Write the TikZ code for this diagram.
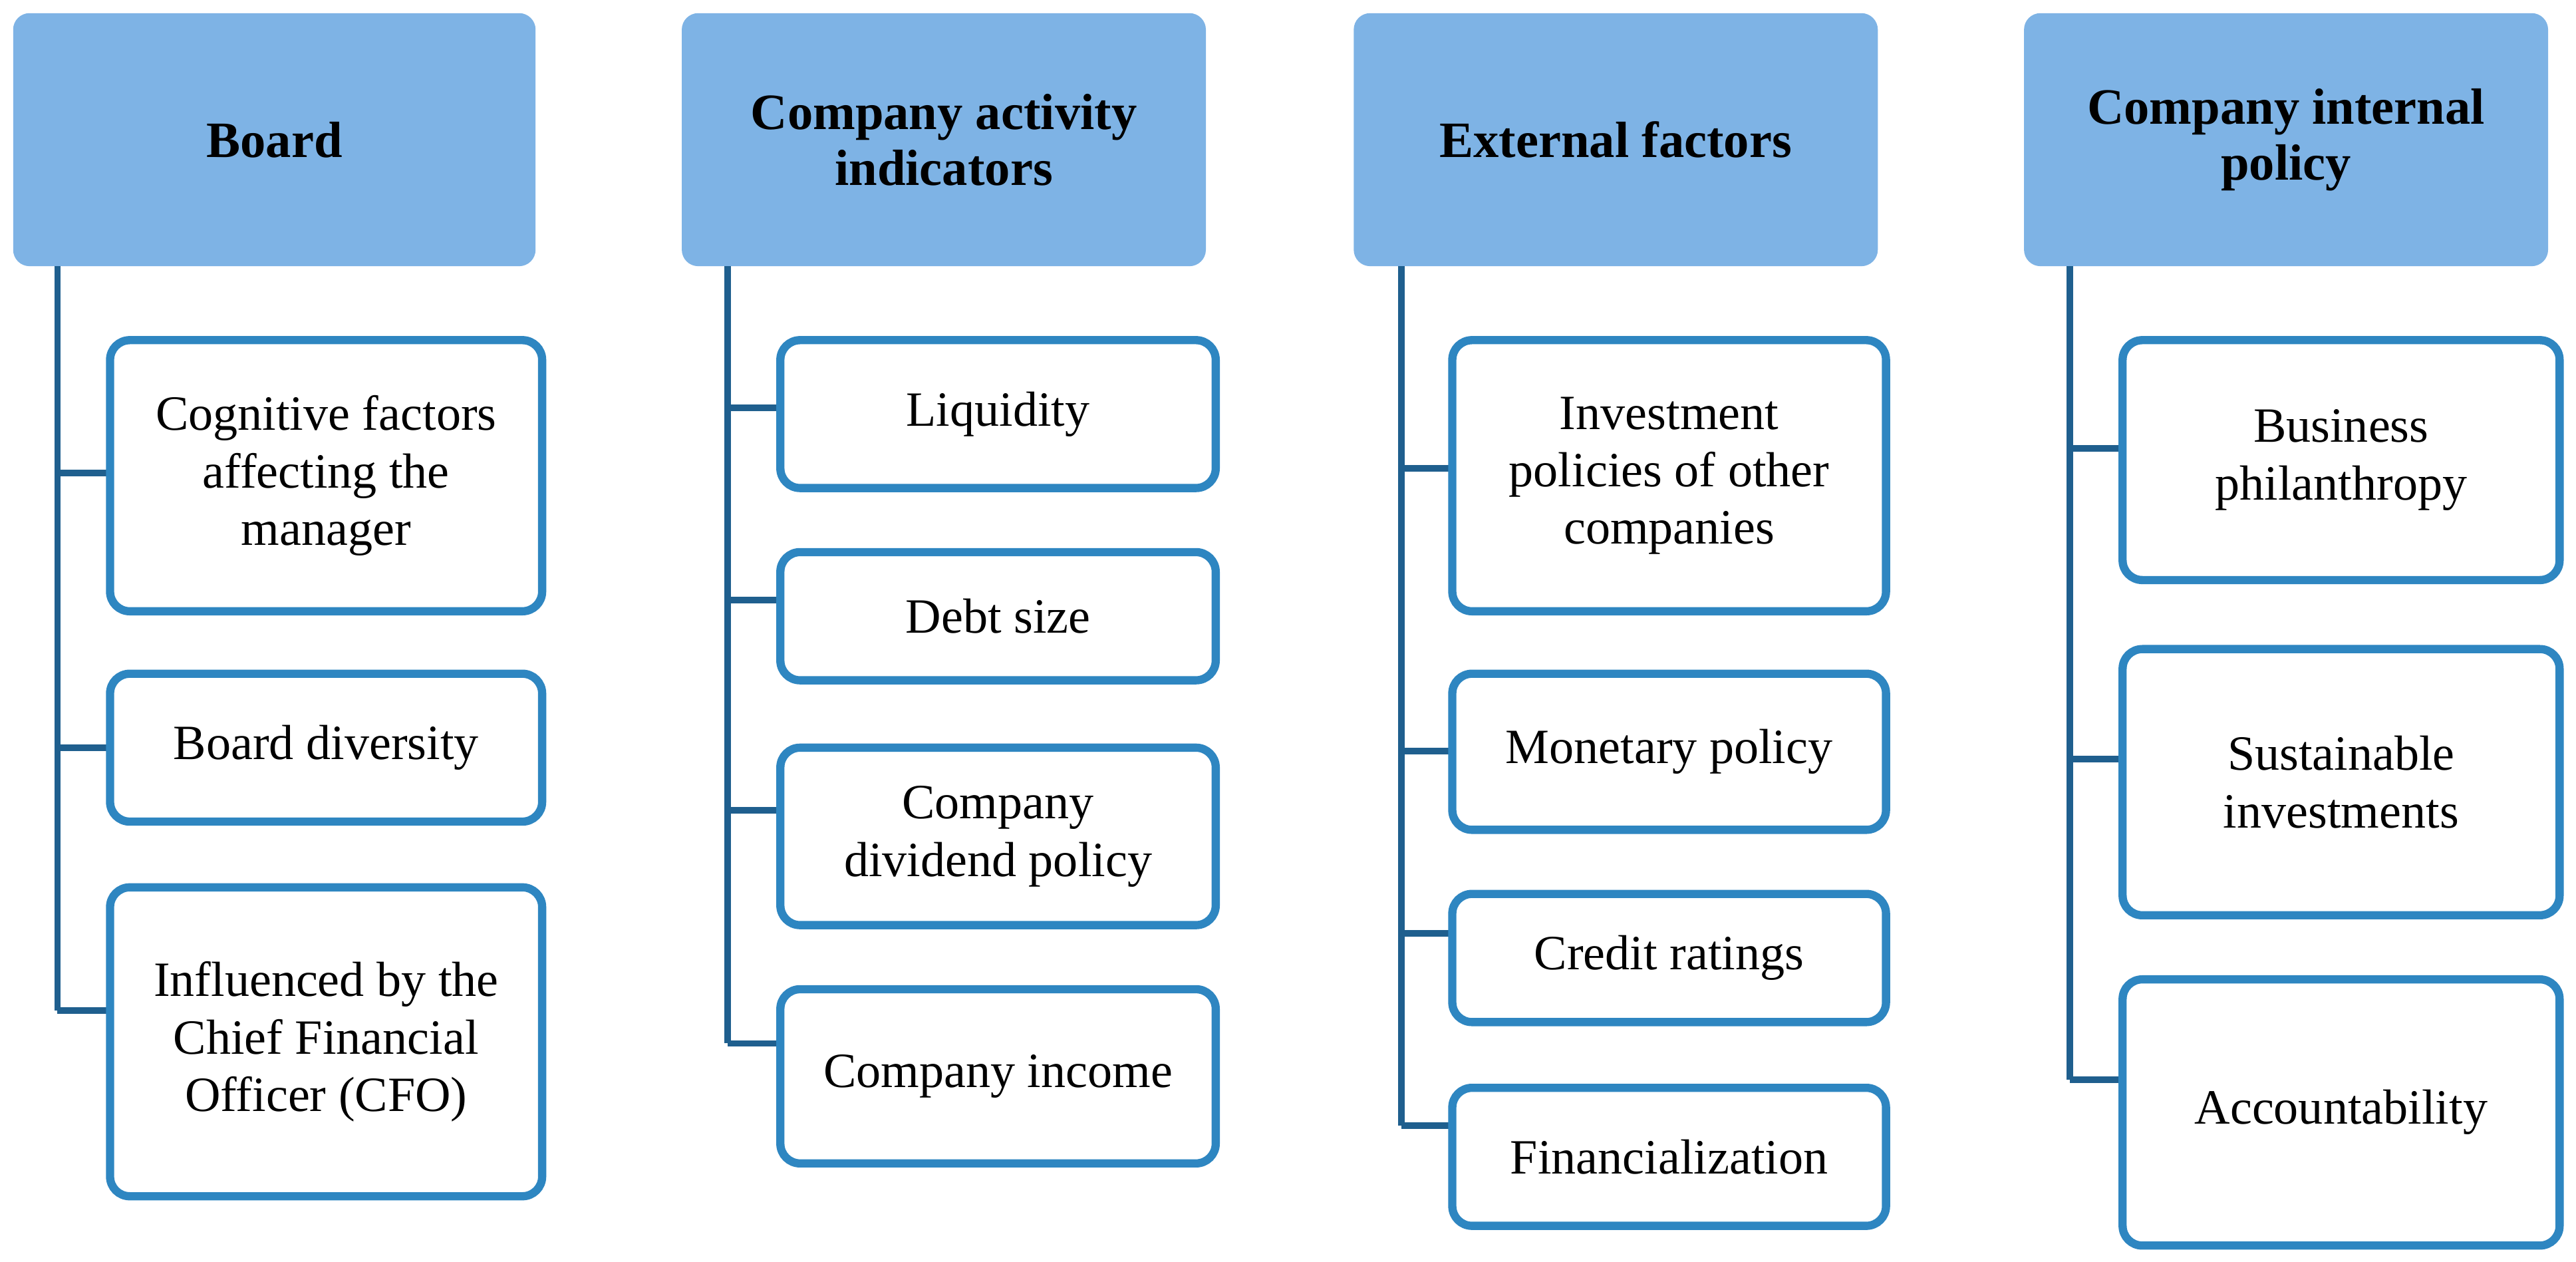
\documentclass[tikz,border=0pt]{standalone}
\usepackage{fontspec}
\setmainfont{Liberation Serif}
\definecolor{hdr}{HTML}{7EB3E5}
\definecolor{brd}{HTML}{2E86C1}
\definecolor{tree}{HTML}{1F5F8E}
\begin{document}
\begin{tikzpicture}[x=1pt,y=-1pt,
 hbox/.style={fill=hdr,rounded corners=10pt,font=\fontsize{31}{34}\selectfont\bfseries,align=center},
 cbox/.style={draw=brd,line width=5pt,fill=white,rounded corners=12pt,font=\fontsize{30}{35}\selectfont,align=center},
 tline/.style={draw=tree,line width=4pt}]
\useasboundingbox (0,0) rectangle (1568,768);
\newcommand{\hd}[6]{\path[hbox] (#1,8) rectangle (#2,162); \node[font=\fontsize{31}{34}\selectfont\bfseries,align=center] (#3) at ({(#1+#2)/2},85) {#4};}
\newcommand{\bx}[7]{\draw[cbox] (#1,#3) rectangle (#2,#4); \node[font=\fontsize{30}{35}\selectfont,align=center] (#5) at ({(#1+#2)/2},{(#3+#4)/2}) {#6};}
\hd{8}{326}{h1}{Board}{}{}
\hd{415}{734}{h2}{Company activity\\indicators}{}{}
\hd{824}{1143}{h3}{External factors}{}{}
\hd{1232}{1551}{h4}{Company internal\\policy}{}{}
% column 1
\draw[tline] (35,162) -- (35,615);
\draw[tline] (35,288) -- (67,288); \draw[tline] (35,455) -- (67,455); \draw[tline] (35,615) -- (67,615);
\bx{67}{330}{207}{372}{a1}{Cognitive factors\\affecting the\\manager}{}
\bx{67}{330}{410}{500}{a2}{Board diversity}{}
\bx{67}{330}{540}{728}{a3}{Influenced by the\\Chief Financial\\Officer (CFO)}{}
% column 2
\draw[tline] (443,162) -- (443,635);
\foreach \y in {248,365,493,635} \draw[tline] (443,\y) -- (475,\y);
\bx{475}{740}{207}{297}{b1}{Liquidity}{}
\bx{475}{740}{336}{414}{b2}{Debt size}{}
\bx{475}{740}{455}{563}{b3}{Company\\dividend policy}{}
\bx{475}{740}{602}{708}{b4}{Company income}{}
% column 3
\draw[tline] (853,162) -- (853,685);
\foreach \y in {285,457,568,685} \draw[tline] (853,\y) -- (884,\y);
\bx{884}{1148}{207}{372}{c1}{Investment\\policies of other\\companies}{}
\bx{884}{1148}{410}{505}{c2}{Monetary policy}{}
\bx{884}{1148}{544}{622}{c3}{Credit ratings}{}
\bx{884}{1148}{662}{746}{c4}{Financialization}{}
% column 4
\draw[tline] (1260,162) -- (1260,657);
\foreach \y in {273,462,657} \draw[tline] (1260,\y) -- (1292,\y);
\bx{1292}{1558}{207}{353}{d1}{Business\\philanthropy}{}
\bx{1292}{1558}{395}{557}{d2}{Sustainable\\investments}{}
\bx{1292}{1558}{596}{758}{d3}{Accountability}{}
\end{tikzpicture}
\end{document}
